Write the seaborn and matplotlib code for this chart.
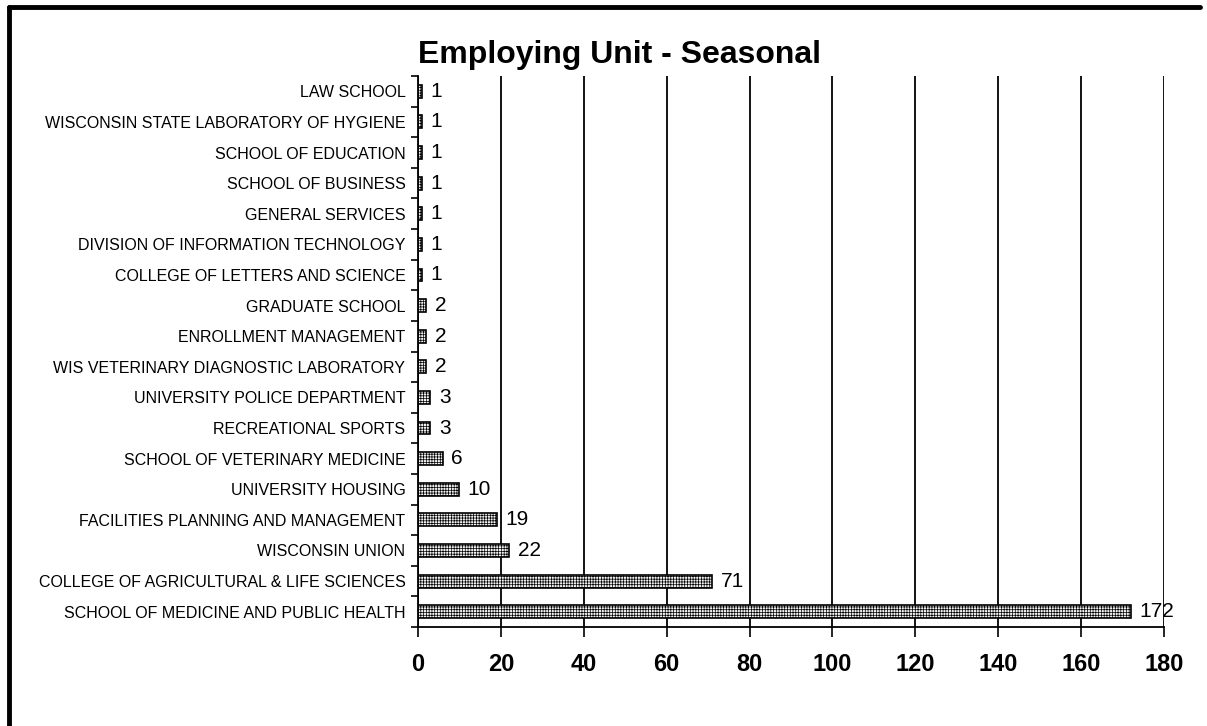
import matplotlib
matplotlib.use("Agg")
import matplotlib.pyplot as plt
import seaborn as sns
import pandas as pd
import numpy as np
from matplotlib.lines import Line2D

categories = [
    "LAW SCHOOL",
    "WISCONSIN STATE LABORATORY OF HYGIENE",
    "SCHOOL OF EDUCATION",
    "SCHOOL OF BUSINESS",
    "GENERAL SERVICES",
    "DIVISION OF INFORMATION TECHNOLOGY",
    "COLLEGE OF LETTERS AND SCIENCE",
    "GRADUATE SCHOOL",
    "ENROLLMENT MANAGEMENT",
    "WIS VETERINARY DIAGNOSTIC LABORATORY",
    "UNIVERSITY POLICE DEPARTMENT",
    "RECREATIONAL SPORTS",
    "SCHOOL OF VETERINARY MEDICINE",
    "UNIVERSITY HOUSING",
    "FACILITIES PLANNING AND MANAGEMENT",
    "WISCONSIN UNION",
    "COLLEGE OF AGRICULTURAL & LIFE SCIENCES",
    "SCHOOL OF MEDICINE AND PUBLIC HEALTH",
]
values = [1, 1, 1, 1, 1, 1, 1, 2, 2, 2, 3, 3, 6, 10, 19, 22, 71, 172]
x_ticks = [0, 20, 40, 60, 80, 100, 120, 140, 160, 180]

sns.set_theme(style="white")
plt.rcParams["font.family"] = ["Liberation Sans", "DejaVu Sans"]
plt.rcParams["text.color"] = "black"
plt.rcParams["xtick.color"] = "black"
plt.rcParams["ytick.color"] = "black"
plt.rcParams["hatch.linewidth"] = 0.5
plt.rcParams["hatch.color"] = "#8a8a8a"

df = pd.DataFrame({"unit": categories, "count": values})

fig = plt.figure(figsize=(12.07, 7.26), dpi=100)
ax = fig.add_axes([418 / 1207, 1 - 627 / 726, (1164 - 418) / 1207, (627 - 76) / 726])

sns.barplot(data=df, y="unit", x="count", orient="h", ax=ax,
            color="#eeeeee", edgecolor="black", linewidth=1.2, width=0.42,
            saturation=1)
for p in ax.patches:
    p.set_hatch("++++++")
    p.set_facecolor("#f2f2f2")

ax.set_xlim(0, 180)
ax.set_ylim(len(categories) - 0.5, -0.5)
ax.set_xticks(x_ticks)
ax.set_xticklabels([str(t) for t in x_ticks], fontsize=17, fontweight="bold")
ax.tick_params(axis="x", which="major", direction="out", length=7, width=1.2,
               color="black", labelcolor="black", pad=12, bottom=True)
ax.xaxis.grid(True, color="black", linewidth=1.3)
ax.set_axisbelow(True)

ax.set_yticks(range(len(categories)))
ax.set_yticklabels(categories, fontsize=11.5)
ax.tick_params(axis="y", which="major", length=0, pad=9, labelcolor="black")
ax.set_yticks(np.arange(-0.5, len(categories), 1), minor=True)
ax.tick_params(axis="y", which="minor", direction="out", length=5, width=1.2,
               color="black", left=True)
ax.set_xlabel("")
ax.set_ylabel("")

for s in ["top", "right"]:
    ax.spines[s].set_visible(False)
for s in ["left", "bottom"]:
    ax.spines[s].set_visible(True)
    ax.spines[s].set_color("black")
    ax.spines[s].set_linewidth(1.3)

for i, v in enumerate(values):
    ax.annotate(str(v), xy=(v, i), xytext=(6, 0), textcoords="offset points",
                va="center", ha="left", fontsize=15, color="black")

fig.text(619 / 1207, 1 - 55 / 726, "Employing Unit - Seasonal", ha="center",
         va="center", fontsize=23, fontweight="bold", color="black")

# page frame
fig.add_artist(Line2D([9 / 1207, 9 / 1207], [0, 1 - 7 / 726], color="black",
                      linewidth=3.5, transform=fig.transFigure))
fig.add_artist(Line2D([9 / 1207, 1200 / 1207], [1 - 7 / 726, 1 - 7 / 726],
                      color="black", linewidth=3.5, transform=fig.transFigure))

fig.savefig("out.png", dpi=100, facecolor="white")
